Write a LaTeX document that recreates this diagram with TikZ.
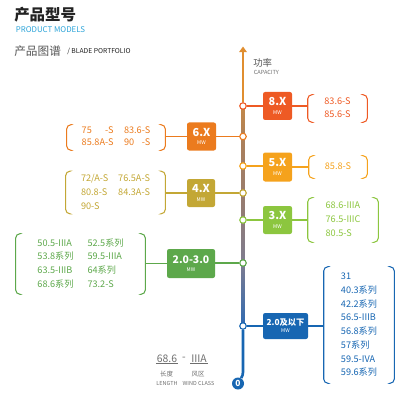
\documentclass[tikz,border=0pt]{standalone}
\usepackage{fontspec}
\setmainfont{Noto Sans CJK SC}
\usepackage{xcolor}
\usetikzlibrary{arrows.meta, positioning, backgrounds}
\definecolor{titledark}{HTML}{222222}
\definecolor{titleblue}{HTML}{2BA3D8}
\definecolor{subgray}{HTML}{555555}
\definecolor{legendgray}{HTML}{6E6E6E}
\definecolor{col8}{HTML}{EE5A24}
\definecolor{col6}{HTML}{EB7B1E}
\definecolor{col5}{HTML}{F5A21C}
\definecolor{col4}{HTML}{C3A735}
\definecolor{col3}{HTML}{8CC63F}
\definecolor{col23}{HTML}{5DA84B}
\definecolor{col2}{HTML}{1766B2}
% axis shades, top to bottom
\definecolor{axA}{HTML}{E08E30}
\definecolor{axB}{HTML}{C48848}
\definecolor{axC}{HTML}{AE8058}
\definecolor{axD}{HTML}{A27E64}
\definecolor{axE}{HTML}{9A7C6C}
\definecolor{axF}{HTML}{8E7C7A}
\definecolor{axG}{HTML}{7E7C90}
\definecolor{axH}{HTML}{2F6AB2}
\newcommand\pxu{0.025cm}
\newcommand\mwbox[1]{#1\\[-2pt]{\mdseries\fontsize{3.6}{4}\selectfont MW}}
\newcommand\brackets[2]{%
  \draw[brk, #2] ([xshift=4*\pxu]#1.north west) -- (#1.north west)
    -- (#1.south west) -- ([xshift=4*\pxu]#1.south west);
  \draw[brk, #2] ([xshift=-4*\pxu]#1.north east) -- (#1.north east)
    -- (#1.south east) -- ([xshift=-4*\pxu]#1.south east);}

\begin{document}
\begin{tikzpicture}[
    x=0.025cm, y=-0.025cm,
    txt/.style     = {inner sep=0, anchor=west},
    mwb/.style     = {rectangle, rounded corners=1.5pt, text=white, inner sep=0,
                      align=center, font=\bfseries\fontsize{7.8}{8}\selectfont},
    plist/.style   = {inner sep=0, font=\fontsize{6.5}{9.8}\selectfont},
    jdot/.style    = {circle, fill=white, draw, line width=0.8pt, inner sep=0,
                      minimum size=6.5*\pxu},
    conn/.style    = {line width=0.8pt},
    brk/.style     = {line width=0.75pt, rounded corners=3pt},
    axisline/.style= {line width=1.9pt},
    legval/.style  = {inner sep=0.6pt, text=legendgray, font=\fontsize{7.4}{8}\selectfont},
    legcn/.style   = {inner sep=0, text=legendgray, font=\fontsize{4.6}{5}\selectfont},
    legen/.style   = {inner sep=0, text=legendgray, font=\fontsize{3.9}{4}\selectfont}
  ]
  \useasboundingbox (0,0) rectangle (406,400);

  % ── Titles ─────────────────────────────────────────────────────────────────
  \node[txt, text=titledark, font=\bfseries\fontsize{11}{12}\selectfont] (title) at (14,15) {产品型号};
  \node[txt, text=titleblue, font=\fontsize{5.6}{6}\selectfont] (titleen) at (15.5,30) {PRODUCT MODELS};
  \node[txt, text=subgray, font=\fontsize{8.3}{9}\selectfont] (subtitle) at (14,51) {产品图谱};
  \node[txt, text=titledark, font=\fontsize{4.8}{5}\selectfont] (subtitleen) at (67,51.5) {/ BLADE PORTFOLIO};

  % ── Axis ───────────────────────────────────────────────────────────────────
  \coordinate (arrowtip) at (243,46.5);
  \node[jdot, draw=col8]  (j8)  at (243,106) {};
  \node[jdot, draw=col6]  (j6)  at (243,136.5) {};
  \node[jdot, draw=col5]  (j5)  at (243,166) {};
  \node[jdot, draw=col4]  (j4)  at (243,193) {};
  \node[jdot, draw=col3]  (j3)  at (243,220) {};
  \node[jdot, draw=col23] (j23) at (243,263) {};
  \node[jdot, draw=col2]  (j2)  at (243,326) {};
  \coordinate (bend) at (243,372);
  \node[circle, fill=col2, text=white, inner sep=0, minimum size=12*\pxu,
        font=\bfseries\fontsize{6}{6}\selectfont] (zero) at (238,383.5) {0};
  \node[txt, text=subgray, font=\fontsize{6.7}{7}\selectfont] (cap) at (253,63) {功率};
  \node[txt, text=legendgray, font=\fontsize{4}{4}\selectfont] (capen) at (253.5,72) {CAPACITY};

  \begin{scope}[on background layer]
    \shade[top color=axB, bottom color=axC] ([xshift=-1.35*\pxu]j8.center) rectangle ([xshift=1.35*\pxu]j6.center);
    \shade[top color=axC, bottom color=axD] ([xshift=-1.35*\pxu]j6.center) rectangle ([xshift=1.35*\pxu]j5.center);
    \shade[top color=axD, bottom color=axE] ([xshift=-1.35*\pxu]j5.center) rectangle ([xshift=1.35*\pxu]j4.center);
    \shade[top color=axE, bottom color=axF] ([xshift=-1.35*\pxu]j4.center) rectangle ([xshift=1.35*\pxu]j3.center);
    \shade[top color=axF, bottom color=axG] ([xshift=-1.35*\pxu]j3.center) rectangle ([xshift=1.35*\pxu]j23.center);
    \shade[top color=axG, bottom color=axH] ([xshift=-1.35*\pxu]j23.center) rectangle ([xshift=1.35*\pxu]j2.center);
  \end{scope}
  \draw[axisline, axA, -{Triangle[width=5.4pt, length=4pt]}] (j8) -- (arrowtip);
  \draw[axisline, col2] (j2) -- (bend) to[out=-90, in=60] (zero);

  % ── 8.X ────────────────────────────────────────────────────────────────────
  \node[mwb, fill=col8, minimum width=29*\pxu, minimum height=28*\pxu] (box8) at (277.5,106) {\mwbox{8.X}};
  \node[plist, text=col8, minimum width=59*\pxu, minimum height=27*\pxu,
        font=\fontsize{6.5}{9.2}\selectfont] (list8) at (337.5,108.5)
    {\begin{tabular}{@{}l@{}}83.6-S\\85.6-S\end{tabular}};
  \brackets{list8}{col8}
  \draw[conn, col8] (j8) -- (box8);
  \draw[conn, col8] (box8.east) -- (box8.east -| list8.west);

  % ── 6.X ────────────────────────────────────────────────────────────────────
  \node[mwb, fill=col6, minimum width=29*\pxu, minimum height=28*\pxu] (box6) at (201.5,136.5) {\mwbox{6.X}};
  \node[plist, text=col6, minimum width=98*\pxu, minimum height=25*\pxu,
        font=\fontsize{6.5}{8.6}\selectfont] (list6) at (116,137.5)
    {\begin{tabular}{@{}l@{\hspace{7.5pt}}l@{}}75\hphantom{.8A}-S & 83.6-S\\85.8A-S & 90\hphantom{.6}-S\end{tabular}};
  \brackets{list6}{col6}
  \draw[conn, col6] (j6) -- (box6);
  \draw[conn, col6] (box6.west) -- (box6.west -| list6.east);

  % ── 5.X ────────────────────────────────────────────────────────────────────
  \node[mwb, fill=col5, minimum width=29*\pxu, minimum height=29*\pxu] (box5) at (277.5,167) {\mwbox{5.X}};
  \node[plist, text=col5, minimum width=58*\pxu, minimum height=22*\pxu] (list5) at (338,167)
    {\begin{tabular}{@{}l@{}}85.8-S\end{tabular}};
  \brackets{list5}{col5}
  \draw[conn, col5] (j5) -- (j5 -| box5.west);
  \draw[conn, col5] (box5.east) -- (box5.east -| list5.west);

  % ── 4.X ────────────────────────────────────────────────────────────────────
  \node[mwb, fill=col4, minimum width=28*\pxu, minimum height=28*\pxu] (box4) at (201,193) {\mwbox{4.X}};
  \node[plist, text=col4, minimum width=99*\pxu, minimum height=42*\pxu] (list4) at (115.5,192.5)
    {\begin{tabular}{@{}l@{\hspace{7pt}}l@{}}72/A-S & 76.5A-S\\80.8-S & 84.3A-S\\90-S & \end{tabular}};
  \brackets{list4}{col4}
  \draw[conn, col4] (j4) -- (box4);
  \draw[conn, col4] (box4.west) -- (box4.west -| list4.east);

  % ── 3.X ────────────────────────────────────────────────────────────────────
  \node[mwb, fill=col3, minimum width=29*\pxu, minimum height=28*\pxu] (box3) at (277.5,220) {\mwbox{3.X}};
  \node[plist, text=col3, minimum width=70*\pxu, minimum height=44*\pxu] (list3) at (343,220)
    {\begin{tabular}{@{}l@{}}68.6-IIIA\\76.5-IIIC\\80.5-S\end{tabular}};
  \brackets{list3}{col3}
  \draw[conn, col3] (j3) -- (box3);
  \draw[conn, col3] (box3.east) -- (box3.east -| list3.west);

  % ── 2.0-3.0 ────────────────────────────────────────────────────────────────
  \node[mwb, fill=col23, minimum width=48*\pxu, minimum height=29*\pxu,
        font=\bfseries\fontsize{7.4}{8}\selectfont] (box23) at (191,263.5) {\mwbox{2.0-3.0}};
  \node[plist, text=col23, minimum width=129*\pxu, minimum height=60*\pxu] (list23) at (80.5,264)
    {\begin{tabular}{@{}l@{\hspace{10pt}}l@{}}50.5-IIIA & 52.5系列\\53.8系列 & 59.5-IIIA\\63.5-IIIB & 64系列\\68.6系列 & 73.2-S\end{tabular}};
  \brackets{list23}{col23}
  \draw[conn, col23] (j23) -- (j23 -| box23.east);
  \draw[conn, col23] (box23.west) -- (box23.west -| list23.east);

  % ── 2.0 and below ──────────────────────────────────────────────────────────
  \node[mwb, fill=col2, minimum width=45*\pxu, minimum height=26*\pxu,
        font=\bfseries\fontsize{5.9}{7}\selectfont] (box2) at (285.5,326) {\mwbox{2.0及以下}};
  \node[plist, text=col2, minimum width=70*\pxu, minimum height=116*\pxu] (list2) at (359,325)
    {\begin{tabular}{@{}l@{}}31\\40.3系列\\42.2系列\\56.5-IIIB\\56.8系列\\57系列\\59.5-IVA\\59.6系列\end{tabular}};
  \brackets{list2}{col2}
  \draw[conn, col2] (j2) -- (box2);
  \draw[conn, col2] (box2.east) -- (box2.east -| list2.west);

  % ── Legend ─────────────────────────────────────────────────────────────────
  \node[legval] (lenval)   at (167,358.5) {68.6};
  \node[legval] (legdash)  at (184,358.5) {-};
  \node[legval] (classval) at (199,358.5) {IIIA};
  \draw[legendgray, line width=0.5pt] (lenval.south west) -- (lenval.south east);
  \draw[legendgray, line width=0.5pt] (classval.south west) -- (classval.south east);
  \node[legcn] (lencn)   at (166.5,374.5) {长度};
  \node[legen] (lenen)   at (167,383) {LENGTH};
  \node[legcn] (classcn) at (198,374.5) {风区};
  \node[legen] (classen) at (198.5,383) {WIND CLASS};

\end{tikzpicture}
\end{document}
